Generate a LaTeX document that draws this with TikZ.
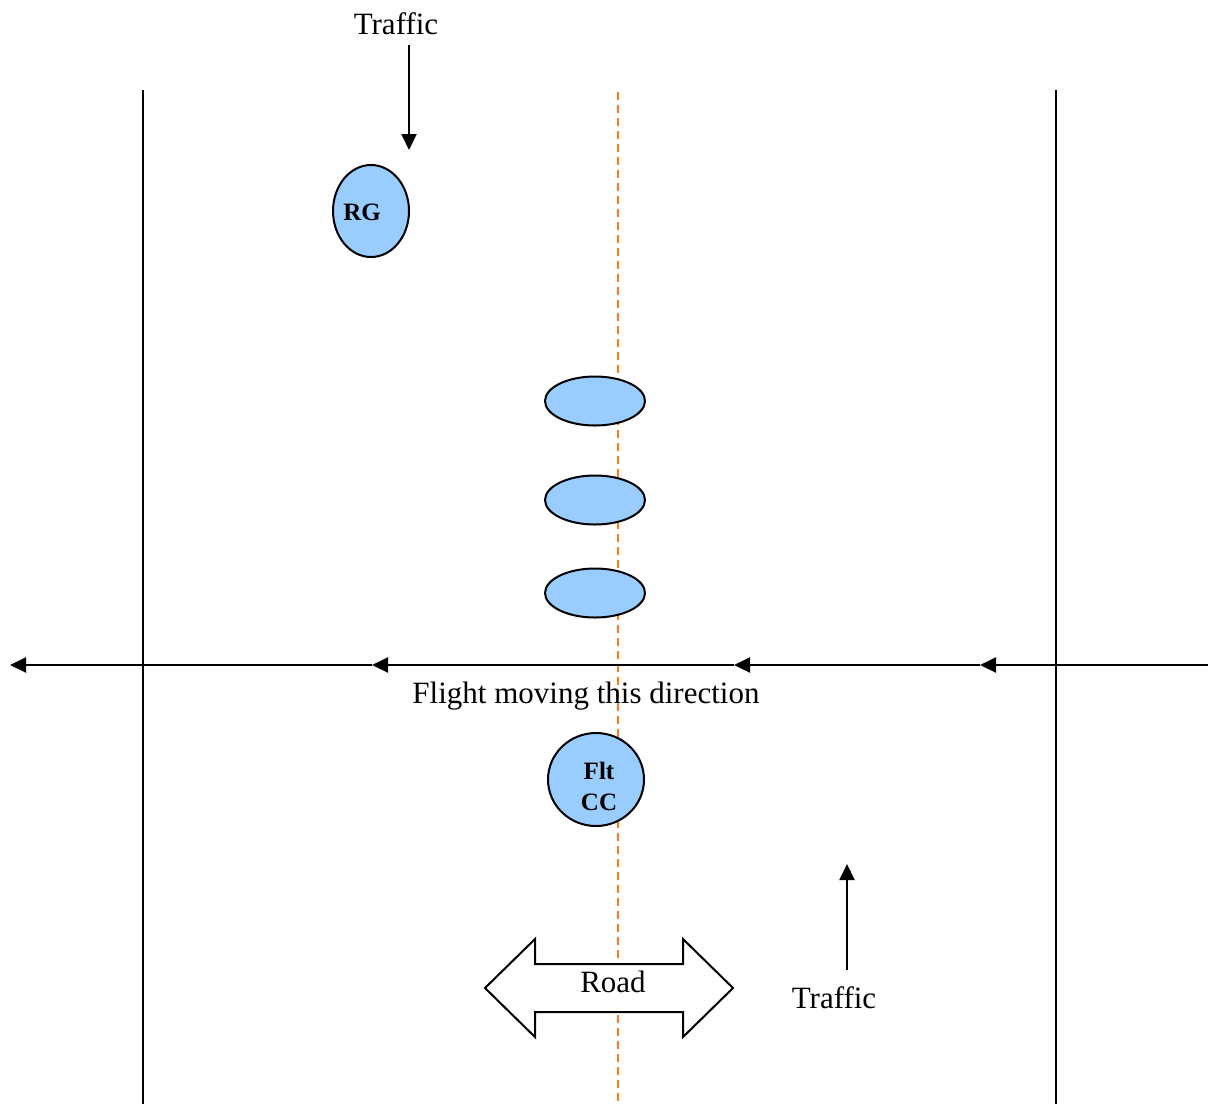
\documentclass[tikz,border=0pt]{standalone}
\usepackage{fontspec}
\setmainfont{Liberation Serif}
\usetikzlibrary{shapes.geometric,arrows.meta}
\definecolor{carblue}{RGB}{153,204,255}
\definecolor{centreorange}{RGB}{255,122,30}
\tikzset{
  vehicle/.style={ellipse,draw=black,line width=1pt,fill=carblue,inner sep=0pt},
  boldlbl/.style={inner sep=0pt,align=center,font=\bfseries\fontsize{12.5}{15.5}\selectfont},
  lbl/.style={inner sep=0pt,font=\fontsize{15.5}{18}\selectfont},
  flow/.style={line width=1pt,-{Triangle[length=8pt,width=7.5pt]}},
  edge/.style={line width=1pt}
}
\begin{document}
\begin{tikzpicture}[x=0.5pt,y=-0.5pt]
 \useasboundingbox (0,0) rectangle (1213,1104);
 \draw[edge](143,90)--(143,1104);
 \draw[edge](1056,90)--(1056,1104);
 \draw[centreorange,line width=1.1pt,dash pattern=on 4pt off 2.5pt](618,92)--(618,1104);
 \node[lbl] (traffictop) at (396,24) {Traffic};
 \coordinate (traffictoptip) at (409,150);
 \draw[flow] (409,45)--(traffictoptip);
 \node[vehicle,minimum width=38pt,minimum height=46pt] (rg) at (371,211) {};
 \node[boldlbl] (rgtext) at (362,212) {RG};
 \node[vehicle,minimum width=50pt,minimum height=24.5pt] (car1) at (595,401) {};
 \node[vehicle,minimum width=50pt,minimum height=24.5pt] (car2) at (595,500) {};
 \node[vehicle,minimum width=50pt,minimum height=24.5pt] (car3) at (595,593) {};
 \coordinate (flightstart) at (1208,665);
 \coordinate (flight1) at (980,665);
 \coordinate (flight2) at (734,665);
 \coordinate (flight3) at (372,665);
 \coordinate (flight4) at (10,665);
 \draw[flow] (flightstart)--(flight1);
 \draw[flow] (flight1)--(flight2);
 \draw[flow] (flight2)--(flight3);
 \draw[flow] (flight3)--(flight4);
 \node[lbl] (direction) at (586,696) {Flight moving this direction};
 \node[vehicle,minimum width=48pt,minimum height=46.5pt] (fltcc) at (596,779.5) {};
 \node[boldlbl] (fltcctext) at (599,786) {Flt\\CC};
 \draw[edge,fill=white](485,988)--(535,939)--(535,964)--(683,964)--(683,939)--(733,988)--(683,1037)--(683,1012)--(535,1012)--(535,1037)--cycle;
 \node[lbl] (road) at (613,982) {Road};
 \node[lbl] (trafficbottom) at (834,998) {Traffic};
 \coordinate (trafficbottomtip) at (847,864);
 \draw[flow] (847,970)--(trafficbottomtip);
\end{tikzpicture}
\end{document}
